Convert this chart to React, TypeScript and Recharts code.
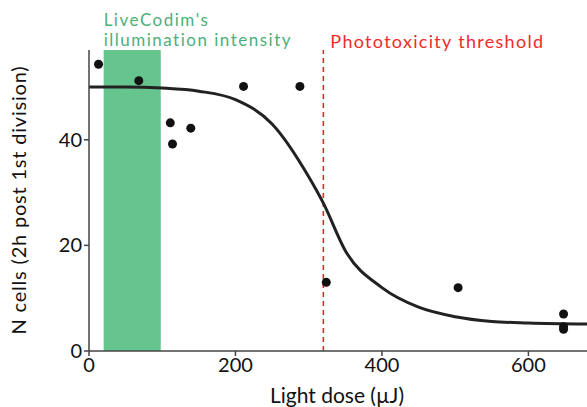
import {
  ComposedChart,
  Line,
  ReferenceArea,
  ReferenceLine,
  Scatter,
  XAxis,
  YAxis,
} from 'recharts';

// measured cell counts
const doses = [13, 68, 111, 114, 139, 211, 288, 324, 504, 648, 648, 648];
const cells = [54.3, 51.2, 43.2, 39.2, 42.2, 50.1, 50.1, 13, 12, 7, 4.6, 4.1];

// fitted curve
const fitDose = [0, 50, 100, 150, 200, 250, 300, 320, 350, 400, 450, 500, 550, 600, 680];
const fitCells = [50, 50, 49.8, 49.2, 47.6, 43, 33, 28, 19, 12, 8.3, 6.5, 5.6, 5.3, 5.1];

const xTicks = [0, 200, 400, 600];
const yTicks = [0, 20, 40];

const bandStart = 20;
const bandEnd = 98;
const threshold = 320;

const points = doses.map((x, i) => ({ x, y: cells[i] }));
const fit = fitDose.map((x, i) => ({ x, y: fitCells[i] }));

const font = 'Lato, "Noto Sans", sans-serif';
const axisColor = '#444';

export default function App() {
  return (
    <div style={{ position: 'fixed', left: 0, top: 0, background: '#fff', fontFamily: font }}>
      <ComposedChart width={587} height={407} margin={{ top: 50, right: 0, left: 0, bottom: 26 }}>
        <XAxis
          type="number"
          dataKey="x"
          domain={[0, 680]}
          ticks={xTicks}
          allowDataOverflow
          height={30}
          tick={{ fontSize: 20, fill: '#111', fontFamily: font }}
          tickSize={5}
          stroke={axisColor}
          strokeWidth={1.5}
          label={() => (
            <text x={337} y={403} textAnchor="middle" fill="#111" fontSize={21} fontFamily={font}>
              Light dose (µJ)
            </text>
          )}
        />
        <YAxis
          type="number"
          dataKey="y"
          domain={[0, 57]}
          ticks={yTicks}
          allowDataOverflow
          width={89}
          tick={{ fontSize: 20, fill: '#111', fontFamily: font }}
          tickSize={5}
          stroke={axisColor}
          strokeWidth={1.5}
          label={() => (
            <text
              x={18}
              y={200}
              transform="rotate(-90, 18, 200)"
              textAnchor="middle"
              dominantBaseline="central"
              fill="#111"
              fontSize={20}
              letterSpacing={0.8}
              fontFamily={font}
            >
              N cells (2h post 1st division)
            </text>
          )}
        />
        <ReferenceArea
          x1={bandStart}
          x2={bandEnd}
          y1={0}
          y2={57}
          fill="#66c48f"
          fillOpacity={1}
          stroke="none"
          ifOverflow="visible"
          label={(props: any) => {
            const vb = props.viewBox || {};
            return (
              <g>
                <text x={vb.x} y={26} fill="#4caf78" fontSize={17} letterSpacing={1.5} fontFamily={font}>LiveCodim's</text>
                <text x={vb.x} y={46} fill="#4caf78" fontSize={17} letterSpacing={1.5} fontFamily={font}>illumination intensity</text>
              </g>
            );
          }}
        />
        <ReferenceLine
          x={threshold}
          stroke="#e8262a"
          strokeWidth={1.6}
          strokeDasharray="5 4"
          label={(props: any) => {
            const vb = props.viewBox || {};
            return (
              <text x={(vb.x || 0) + 7} y={48} fill="#ee2b2b" fontSize={18} letterSpacing={1.3} fontFamily={font}>
                Phototoxicity threshold
              </text>
            );
          }}
        />
        <Line
          data={fit}
          dataKey="y"
          type="monotone"
          stroke="#222"
          strokeWidth={3}
          dot={false}
          activeDot={false}
          isAnimationActive={false}
        />
        <Scatter data={points} dataKey="y" fill="#111" shape={(p: any) => <circle cx={p.cx} cy={p.cy} r={4.5} fill="#111" />} isAnimationActive={false} />
      </ComposedChart>
    </div>
  );
}
